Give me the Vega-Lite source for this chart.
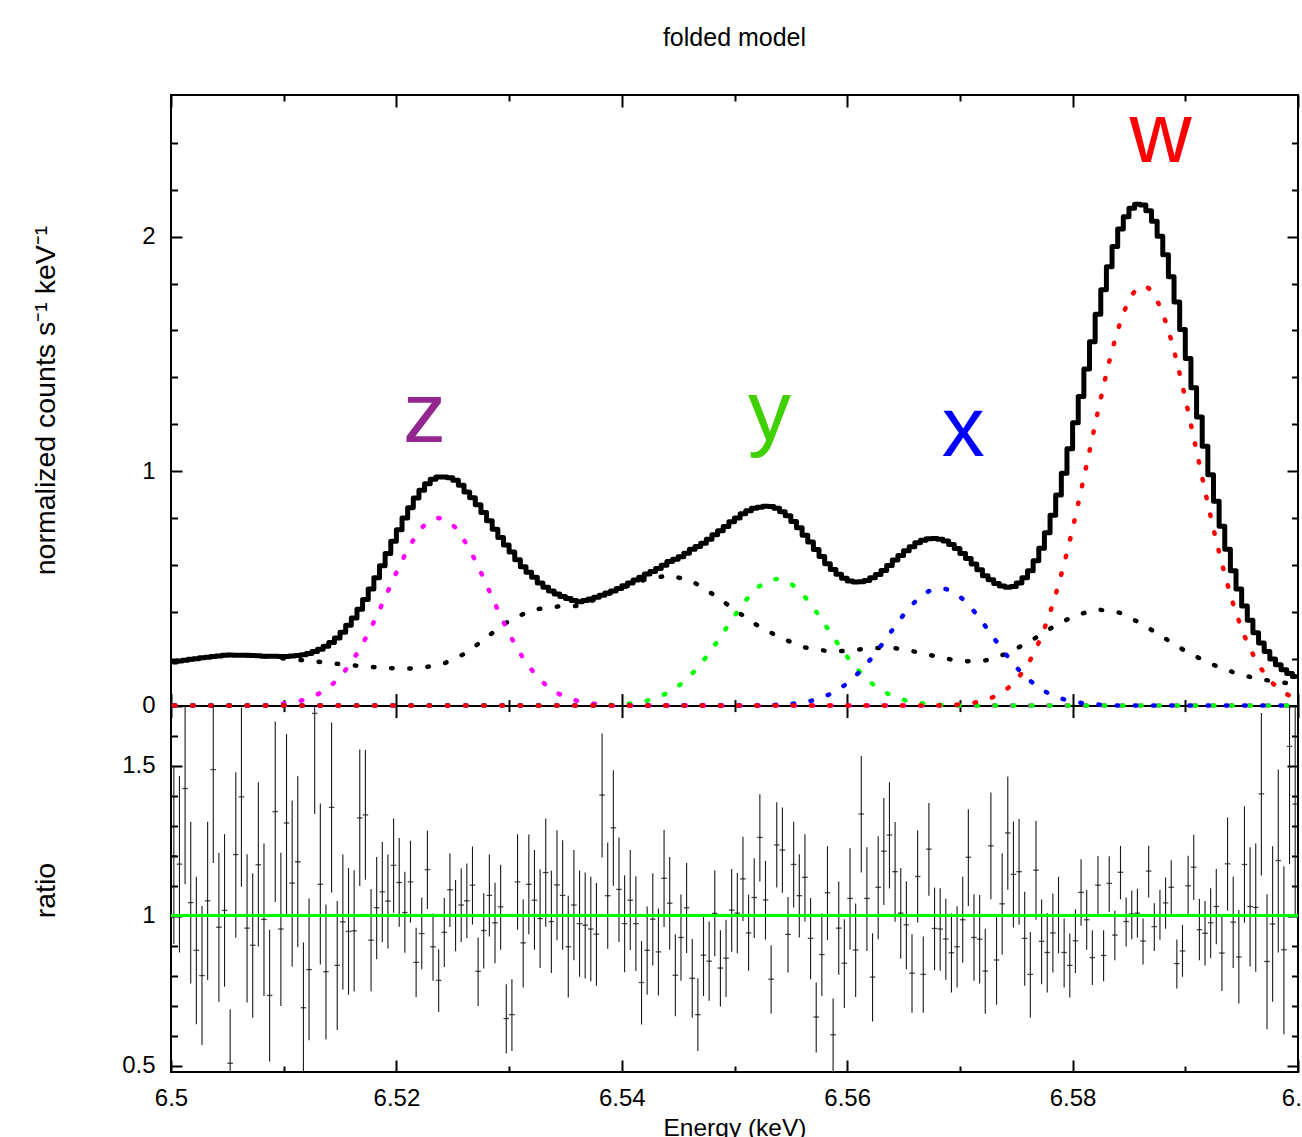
{
"$schema":"https://vega.github.io/schema/vega-lite/v6.json",
"width":1127,"height":977,
"autosize":{"type":"none"},
"padding":{"left":171,"top":95,"right":4,"bottom":65},
"background":"white",
"title":{"text":"folded model","font":"Liberation Sans","fontSize":25,"fontWeight":"normal","color":"black","frame":"group","anchor":"middle","offset":42},
"config":{
 "view":{"stroke":"black","strokeWidth":2},
 "axis":{"labelFont":"Liberation Sans","labelFontSize":24,"labelColor":"black","titleFont":"Liberation Sans","titleFontSize":24.5,"titleFontWeight":"normal","titleColor":"black","tickColor":"black","tickWidth":2,"domain":false,"grid":false,"labelFlush":false,"labelOverlap":false,"labelBound":false}
},
"datasets":{
"lab":[{"e":6.5225,"v":1.125,"s":"z"},{"e":6.5531,"v":1.133,"s":"y"},{"e":6.5703,"v":1.063,"s":"x"},{"e":6.5878,"v":2.32,"s":"w"}],
"bins":[
{"e":6.50025,"t":0.186,"b":0.186,"lz":0,"ly":0,"lx":0,"lw":0,"r":1.2,"lo":0.906,"hi":1.5},
{"e":6.50075,"t":0.19,"b":0.19,"lz":0,"ly":0,"lx":0,"lw":0,"r":1.172,"lo":0.878,"hi":1.466},
{"e":6.50125,"t":0.193,"b":0.193,"lz":0,"ly":0,"lx":0,"lw":0,"r":1.424,"lo":1.105,"hi":1.7},
{"e":6.50175,"t":0.197,"b":0.197,"lz":0,"ly":0,"lx":0,"lw":0,"r":1.044,"lo":0.775,"hi":1.313},
{"e":6.50225,"t":0.2,"b":0.2,"lz":0,"ly":0,"lx":0,"lw":0,"r":0.885,"lo":0.639,"hi":1.13},
{"e":6.50275,"t":0.204,"b":0.204,"lz":0,"ly":0,"lx":0,"lw":0,"r":0.801,"lo":0.57,"hi":1.033},
{"e":6.50325,"t":0.206,"b":0.206,"lz":0,"ly":0,"lx":0,"lw":0,"r":1.05,"lo":0.786,"hi":1.313},
{"e":6.50375,"t":0.209,"b":0.209,"lz":0,"ly":0,"lx":0,"lw":0,"r":1.487,"lo":1.176,"hi":1.7},
{"e":6.50425,"t":0.211,"b":0.211,"lz":0,"ly":0,"lx":0,"lw":0,"r":0.962,"lo":0.714,"hi":1.209},
{"e":6.50475,"t":0.214,"b":0.214,"lz":0,"ly":0,"lx":0,"lw":0,"r":1.018,"lo":0.764,"hi":1.272},
{"e":6.50525,"t":0.216,"b":0.216,"lz":0,"ly":0,"lx":0,"lw":0,"r":0.509,"lo":0.3,"hi":0.689},
{"e":6.50575,"t":0.215,"b":0.215,"lz":0,"ly":0,"lx":0,"lw":0,"r":1.204,"lo":0.927,"hi":1.478},
{"e":6.50625,"t":0.214,"b":0.214,"lz":0,"ly":0,"lx":0,"lw":0,"r":1.396,"lo":1.097,"hi":1.694},
{"e":6.50675,"t":0.214,"b":0.214,"lz":0,"ly":0,"lx":0,"lw":0,"r":0.959,"lo":0.711,"hi":1.205},
{"e":6.50725,"t":0.213,"b":0.213,"lz":0,"ly":0,"lx":0,"lw":0,"r":0.902,"lo":0.661,"hi":1.142},
{"e":6.50775,"t":0.212,"b":0.212,"lz":0,"ly":0,"lx":0,"lw":0,"r":1.17,"lo":0.898,"hi":1.445},
{"e":6.50825,"t":0.21,"b":0.21,"lz":0,"ly":0,"lx":0,"lw":0,"r":0.988,"lo":0.733,"hi":1.241},
{"e":6.50875,"t":0.21,"b":0.207,"lz":0.003,"ly":0,"lx":0,"lw":0,"r":0.735,"lo":0.515,"hi":0.954},
{"e":6.50925,"t":0.21,"b":0.205,"lz":0.005,"ly":0,"lx":0,"lw":0,"r":1.347,"lo":1.046,"hi":1.647},
{"e":6.50975,"t":0.209,"b":0.202,"lz":0.007,"ly":0,"lx":0,"lw":0,"r":0.956,"lo":0.7,"hi":1.21},
{"e":6.51025,"t":0.209,"b":0.2,"lz":0.009,"ly":0,"lx":0,"lw":0,"r":1.309,"lo":1.006,"hi":1.605},
{"e":6.51075,"t":0.211,"b":0.198,"lz":0.013,"ly":0,"lx":0,"lw":0,"r":1.109,"lo":0.831,"hi":1.384},
{"e":6.51125,"t":0.213,"b":0.195,"lz":0.018,"ly":0,"lx":0,"lw":0,"r":1.18,"lo":0.895,"hi":1.465},
{"e":6.51175,"t":0.217,"b":0.193,"lz":0.024,"ly":0,"lx":0,"lw":0,"r":0.694,"lo":0.45,"hi":0.911},
{"e":6.51225,"t":0.222,"b":0.19,"lz":0.032,"ly":0,"lx":0,"lw":0,"r":0.821,"lo":0.586,"hi":1.058},
{"e":6.51275,"t":0.23,"b":0.188,"lz":0.042,"ly":0,"lx":0,"lw":0,"r":1.674,"lo":1.339,"hi":1.7},
{"e":6.51325,"t":0.24,"b":0.186,"lz":0.054,"ly":0,"lx":0,"lw":0,"r":1.105,"lo":0.838,"hi":1.374},
{"e":6.51375,"t":0.253,"b":0.183,"lz":0.07,"ly":0,"lx":0,"lw":0,"r":0.814,"lo":0.588,"hi":1.038},
{"e":6.51425,"t":0.269,"b":0.181,"lz":0.088,"ly":0,"lx":0,"lw":0,"r":1.361,"lo":1.078,"hi":1.644},
{"e":6.51475,"t":0.288,"b":0.178,"lz":0.11,"ly":0,"lx":0,"lw":0,"r":0.835,"lo":0.62,"hi":1.049},
{"e":6.51525,"t":0.313,"b":0.176,"lz":0.137,"ly":0,"lx":0,"lw":0,"r":0.98,"lo":0.755,"hi":1.204},
{"e":6.51575,"t":0.342,"b":0.174,"lz":0.168,"ly":0,"lx":0,"lw":0,"r":0.948,"lo":0.737,"hi":1.159},
{"e":6.51625,"t":0.373,"b":0.171,"lz":0.202,"ly":0,"lx":0,"lw":0,"r":0.95,"lo":0.748,"hi":1.152},
{"e":6.51675,"t":0.411,"b":0.169,"lz":0.242,"ly":0,"lx":0,"lw":0,"r":1.326,"lo":1.099,"hi":1.554},
{"e":6.51725,"t":0.452,"b":0.167,"lz":0.285,"ly":0,"lx":0,"lw":0,"r":1.336,"lo":1.12,"hi":1.552},
{"e":6.51775,"t":0.497,"b":0.165,"lz":0.332,"ly":0,"lx":0,"lw":0,"r":0.919,"lo":0.749,"hi":1.089},
{"e":6.51825,"t":0.545,"b":0.163,"lz":0.382,"ly":0,"lx":0,"lw":0,"r":1.027,"lo":0.855,"hi":1.196},
{"e":6.51875,"t":0.596,"b":0.162,"lz":0.434,"ly":0,"lx":0,"lw":0,"r":1.08,"lo":0.912,"hi":1.246},
{"e":6.51925,"t":0.648,"b":0.16,"lz":0.488,"ly":0,"lx":0,"lw":0,"r":1.049,"lo":0.891,"hi":1.204},
{"e":6.51975,"t":0.701,"b":0.159,"lz":0.542,"ly":0,"lx":0,"lw":0,"r":1.168,"lo":1.01,"hi":1.324},
{"e":6.52025,"t":0.75,"b":0.157,"lz":0.593,"ly":0,"lx":0,"lw":0,"r":1.111,"lo":0.964,"hi":1.259},
{"e":6.52075,"t":0.8,"b":0.158,"lz":0.642,"ly":0,"lx":0,"lw":0,"r":1.011,"lo":0.877,"hi":1.147},
{"e":6.52125,"t":0.844,"b":0.158,"lz":0.686,"ly":0,"lx":0,"lw":0,"r":1.113,"lo":0.977,"hi":1.25},
{"e":6.52175,"t":0.885,"b":0.159,"lz":0.726,"ly":0,"lx":0,"lw":0,"r":0.845,"lo":0.729,"hi":0.96},
{"e":6.52225,"t":0.918,"b":0.16,"lz":0.758,"ly":0,"lx":0,"lw":0,"r":0.941,"lo":0.822,"hi":1.061},
{"e":6.52275,"t":0.946,"b":0.165,"lz":0.781,"ly":0,"lx":0,"lw":0,"r":1.154,"lo":1.023,"hi":1.283},
{"e":6.52325,"t":0.965,"b":0.17,"lz":0.795,"ly":0,"lx":0,"lw":0,"r":0.897,"lo":0.784,"hi":1.008},
{"e":6.52375,"t":0.975,"b":0.175,"lz":0.8,"ly":0,"lx":0,"lw":0,"r":0.785,"lo":0.68,"hi":0.889},
{"e":6.52425,"t":0.975,"b":0.18,"lz":0.795,"ly":0,"lx":0,"lw":0,"r":0.945,"lo":0.83,"hi":1.059},
{"e":6.52475,"t":0.972,"b":0.191,"lz":0.781,"ly":0,"lx":0,"lw":0,"r":1.087,"lo":0.963,"hi":1.208},
{"e":6.52525,"t":0.961,"b":0.203,"lz":0.758,"ly":0,"lx":0,"lw":0,"r":1.0,"lo":0.882,"hi":1.119},
{"e":6.52575,"t":0.94,"b":0.214,"lz":0.726,"ly":0,"lx":0,"lw":0,"r":1.036,"lo":0.913,"hi":1.158},
{"e":6.52625,"t":0.911,"b":0.225,"lz":0.686,"ly":0,"lx":0,"lw":0,"r":1.05,"lo":0.925,"hi":1.174},
{"e":6.52675,"t":0.886,"b":0.244,"lz":0.642,"ly":0,"lx":0,"lw":0,"r":1.102,"lo":0.971,"hi":1.231},
{"e":6.52725,"t":0.856,"b":0.263,"lz":0.593,"ly":0,"lx":0,"lw":0,"r":0.815,"lo":0.7,"hi":0.928},
{"e":6.52775,"t":0.823,"b":0.281,"lz":0.542,"ly":0,"lx":0,"lw":0,"r":0.951,"lo":0.825,"hi":1.075},
{"e":6.52825,"t":0.788,"b":0.3,"lz":0.488,"ly":0,"lx":0,"lw":0,"r":1.068,"lo":0.931,"hi":1.204},
{"e":6.52875,"t":0.752,"b":0.318,"lz":0.434,"ly":0,"lx":0,"lw":0,"r":0.977,"lo":0.842,"hi":1.11},
{"e":6.52925,"t":0.717,"b":0.335,"lz":0.382,"ly":0,"lx":0,"lw":0,"r":1.03,"lo":0.887,"hi":1.17},
{"e":6.52975,"t":0.685,"b":0.353,"lz":0.332,"ly":0,"lx":0,"lw":0,"r":0.658,"lo":0.542,"hi":0.772},
{"e":6.53025,"t":0.655,"b":0.37,"lz":0.285,"ly":0,"lx":0,"lw":0,"r":0.671,"lo":0.55,"hi":0.789},
{"e":6.53075,"t":0.622,"b":0.38,"lz":0.242,"ly":0,"lx":0,"lw":0,"r":1.113,"lo":0.954,"hi":1.272},
{"e":6.53125,"t":0.592,"b":0.39,"lz":0.202,"ly":0,"lx":0,"lw":0,"r":0.91,"lo":0.761,"hi":1.055},
{"e":6.53175,"t":0.568,"b":0.4,"lz":0.168,"ly":0,"lx":0,"lw":0,"r":1.105,"lo":0.939,"hi":1.271},
{"e":6.53225,"t":0.547,"b":0.41,"lz":0.137,"ly":0,"lx":0,"lw":0,"r":1.052,"lo":0.887,"hi":1.219},
{"e":6.53275,"t":0.523,"b":0.413,"lz":0.11,"ly":0,"lx":0,"lw":0,"r":0.991,"lo":0.826,"hi":1.155},
{"e":6.53325,"t":0.504,"b":0.416,"lz":0.088,"ly":0,"lx":0,"lw":0,"r":1.144,"lo":0.964,"hi":1.324},
{"e":6.53375,"t":0.489,"b":0.419,"lz":0.07,"ly":0,"lx":0,"lw":0,"r":0.981,"lo":0.81,"hi":1.15},
{"e":6.53425,"t":0.476,"b":0.422,"lz":0.054,"ly":0,"lx":0,"lw":0,"r":1.103,"lo":0.919,"hi":1.285},
{"e":6.53475,"t":0.465,"b":0.423,"lz":0.042,"ly":0,"lx":0,"lw":0,"r":1.068,"lo":0.887,"hi":1.252},
{"e":6.53525,"t":0.456,"b":0.424,"lz":0.032,"ly":0,"lx":0,"lw":0,"r":0.897,"lo":0.728,"hi":1.067},
{"e":6.53575,"t":0.448,"b":0.424,"lz":0.024,"ly":0,"lx":0,"lw":0,"r":1.036,"lo":0.852,"hi":1.219},
{"e":6.53625,"t":0.443,"b":0.425,"lz":0.018,"ly":0,"lx":0,"lw":0,"r":0.974,"lo":0.797,"hi":1.151},
{"e":6.53675,"t":0.448,"b":0.435,"lz":0.013,"ly":0,"lx":0,"lw":0,"r":0.969,"lo":0.791,"hi":1.144},
{"e":6.53725,"t":0.454,"b":0.445,"lz":0.009,"ly":0,"lx":0,"lw":0,"r":0.956,"lo":0.782,"hi":1.13},
{"e":6.53775,"t":0.462,"b":0.455,"lz":0.007,"ly":0,"lx":0,"lw":0,"r":0.939,"lo":0.767,"hi":1.109},
{"e":6.53825,"t":0.47,"b":0.465,"lz":0.005,"ly":0,"lx":0,"lw":0,"r":1.402,"lo":1.194,"hi":1.607},
{"e":6.53875,"t":0.48,"b":0.475,"lz":0.003,"ly":0.002,"lx":0,"lw":0,"r":1.067,"lo":0.89,"hi":1.244},
{"e":6.53925,"t":0.488,"b":0.485,"lz":0,"ly":0.003,"lx":0,"lw":0,"r":1.293,"lo":1.1,"hi":1.485},
{"e":6.53975,"t":0.499,"b":0.495,"lz":0,"ly":0.004,"lx":0,"lw":0,"r":1.088,"lo":0.913,"hi":1.261},
{"e":6.54025,"t":0.511,"b":0.505,"lz":0,"ly":0.006,"lx":0,"lw":0,"r":0.974,"lo":0.812,"hi":1.135},
{"e":6.54075,"t":0.523,"b":0.514,"lz":0,"ly":0.009,"lx":0,"lw":0,"r":1.052,"lo":0.886,"hi":1.219},
{"e":6.54125,"t":0.535,"b":0.523,"lz":0,"ly":0.012,"lx":0,"lw":0,"r":0.974,"lo":0.816,"hi":1.132},
{"e":6.54175,"t":0.547,"b":0.531,"lz":0,"ly":0.016,"lx":0,"lw":0,"r":0.778,"lo":0.638,"hi":0.916},
{"e":6.54225,"t":0.561,"b":0.54,"lz":0,"ly":0.021,"lx":0,"lw":0,"r":0.885,"lo":0.737,"hi":1.031},
{"e":6.54275,"t":0.572,"b":0.544,"lz":0,"ly":0.028,"lx":0,"lw":0,"r":0.989,"lo":0.835,"hi":1.142},
{"e":6.54325,"t":0.585,"b":0.548,"lz":0,"ly":0.037,"lx":0,"lw":0,"r":0.88,"lo":0.735,"hi":1.024},
{"e":6.54375,"t":0.598,"b":0.551,"lz":0,"ly":0.047,"lx":0,"lw":0,"r":1.125,"lo":0.963,"hi":1.286},
{"e":6.54425,"t":0.614,"b":0.555,"lz":0,"ly":0.059,"lx":0,"lw":0,"r":1.042,"lo":0.887,"hi":1.196},
{"e":6.54475,"t":0.624,"b":0.549,"lz":0,"ly":0.075,"lx":0,"lw":0,"r":0.802,"lo":0.666,"hi":0.939},
{"e":6.54525,"t":0.635,"b":0.543,"lz":0,"ly":0.092,"lx":0,"lw":0,"r":0.928,"lo":0.784,"hi":1.071},
{"e":6.54575,"t":0.649,"b":0.536,"lz":0,"ly":0.113,"lx":0,"lw":0,"r":1.027,"lo":0.876,"hi":1.176},
{"e":6.54625,"t":0.667,"b":0.53,"lz":0,"ly":0.137,"lx":0,"lw":0,"r":0.792,"lo":0.661,"hi":0.923},
{"e":6.54675,"t":0.678,"b":0.515,"lz":0,"ly":0.163,"lx":0,"lw":0,"r":0.671,"lo":0.55,"hi":0.792},
{"e":6.54725,"t":0.692,"b":0.5,"lz":0,"ly":0.192,"lx":0,"lw":0,"r":0.869,"lo":0.733,"hi":1.002},
{"e":6.54775,"t":0.709,"b":0.485,"lz":0,"ly":0.224,"lx":0,"lw":0,"r":0.849,"lo":0.717,"hi":0.981},
{"e":6.54825,"t":0.728,"b":0.47,"lz":0,"ly":0.258,"lx":0,"lw":0,"r":1.008,"lo":0.865,"hi":1.151},
{"e":6.54875,"t":0.746,"b":0.453,"lz":0,"ly":0.293,"lx":0,"lw":0,"r":0.826,"lo":0.698,"hi":0.952},
{"e":6.54925,"t":0.764,"b":0.435,"lz":0,"ly":0.329,"lx":0,"lw":0,"r":0.859,"lo":0.73,"hi":0.987},
{"e":6.54975,"t":0.784,"b":0.418,"lz":0,"ly":0.366,"lx":0,"lw":0,"r":1.019,"lo":0.88,"hi":1.156},
{"e":6.55025,"t":0.8,"b":0.4,"lz":0,"ly":0.4,"lx":0,"lw":0,"r":1.009,"lo":0.875,"hi":1.143},
{"e":6.55075,"t":0.818,"b":0.384,"lz":0,"ly":0.434,"lx":0,"lw":0,"r":1.123,"lo":0.983,"hi":1.263},
{"e":6.55125,"t":0.831,"b":0.368,"lz":0,"ly":0.463,"lx":0,"lw":0,"r":0.943,"lo":0.817,"hi":1.07},
{"e":6.55175,"t":0.841,"b":0.351,"lz":0,"ly":0.49,"lx":0,"lw":0,"r":1.061,"lo":0.926,"hi":1.192},
{"e":6.55225,"t":0.846,"b":0.335,"lz":0,"ly":0.511,"lx":0,"lw":0,"r":1.261,"lo":1.114,"hi":1.405},
{"e":6.55275,"t":0.85,"b":0.323,"lz":0,"ly":0.527,"lx":0,"lw":0,"r":1.053,"lo":0.921,"hi":1.183},
{"e":6.55325,"t":0.849,"b":0.31,"lz":0,"ly":0.537,"lx":0.002,"lw":0,"r":0.789,"lo":0.675,"hi":0.902},
{"e":6.55375,"t":0.841,"b":0.298,"lz":0,"ly":0.54,"lx":0.003,"lw":0,"r":1.236,"lo":1.094,"hi":1.378},
{"e":6.55425,"t":0.826,"b":0.285,"lz":0,"ly":0.537,"lx":0.004,"lw":0,"r":1.219,"lo":1.077,"hi":1.361},
{"e":6.55475,"t":0.809,"b":0.276,"lz":0,"ly":0.527,"lx":0.006,"lw":0,"r":0.938,"lo":0.811,"hi":1.063},
{"e":6.55525,"t":0.785,"b":0.266,"lz":0,"ly":0.511,"lx":0.008,"lw":0,"r":1.171,"lo":1.028,"hi":1.313},
{"e":6.55575,"t":0.758,"b":0.257,"lz":0,"ly":0.49,"lx":0.011,"lw":0,"r":1.067,"lo":0.928,"hi":1.205},
{"e":6.55625,"t":0.726,"b":0.248,"lz":0,"ly":0.463,"lx":0.015,"lw":0,"r":1.128,"lo":0.981,"hi":1.272},
{"e":6.55675,"t":0.698,"b":0.244,"lz":0,"ly":0.434,"lx":0.02,"lw":0,"r":0.925,"lo":0.789,"hi":1.059},
{"e":6.55725,"t":0.666,"b":0.24,"lz":0,"ly":0.4,"lx":0.026,"lw":0,"r":0.663,"lo":0.545,"hi":0.778},
{"e":6.55775,"t":0.636,"b":0.236,"lz":0,"ly":0.366,"lx":0.034,"lw":0,"r":0.871,"lo":0.733,"hi":1.008},
{"e":6.55825,"t":0.605,"b":0.232,"lz":0,"ly":0.329,"lx":0.044,"lw":0,"r":1.077,"lo":0.92,"hi":1.232},
{"e":6.55875,"t":0.58,"b":0.232,"lz":0,"ly":0.293,"lx":0.055,"lw":0,"r":0.604,"lo":0.45,"hi":0.725},
{"e":6.55925,"t":0.56,"b":0.233,"lz":0,"ly":0.258,"lx":0.069,"lw":0,"r":0.959,"lo":0.804,"hi":1.114},
{"e":6.55975,"t":0.543,"b":0.233,"lz":0,"ly":0.224,"lx":0.086,"lw":0,"r":0.842,"lo":0.693,"hi":0.989},
{"e":6.56025,"t":0.531,"b":0.234,"lz":0,"ly":0.192,"lx":0.105,"lw":0,"r":1.058,"lo":0.888,"hi":1.225},
{"e":6.56075,"t":0.527,"b":0.237,"lz":0,"ly":0.163,"lx":0.127,"lw":0,"r":0.886,"lo":0.73,"hi":1.041},
{"e":6.56125,"t":0.528,"b":0.24,"lz":0,"ly":0.137,"lx":0.151,"lw":0,"r":1.339,"lo":1.144,"hi":1.532},
{"e":6.56175,"t":0.533,"b":0.242,"lz":0,"ly":0.113,"lx":0.178,"lw":0,"r":1.058,"lo":0.883,"hi":1.228},
{"e":6.56225,"t":0.545,"b":0.245,"lz":0,"ly":0.092,"lx":0.208,"lw":0,"r":0.796,"lo":0.648,"hi":0.942},
{"e":6.56275,"t":0.559,"b":0.245,"lz":0,"ly":0.075,"lx":0.239,"lw":0,"r":1.095,"lo":0.922,"hi":1.265},
{"e":6.56325,"t":0.576,"b":0.245,"lz":0,"ly":0.059,"lx":0.272,"lw":0,"r":1.215,"lo":1.036,"hi":1.392},
{"e":6.56375,"t":0.597,"b":0.245,"lz":0,"ly":0.047,"lx":0.305,"lw":0,"r":1.269,"lo":1.091,"hi":1.445},
{"e":6.56425,"t":0.621,"b":0.245,"lz":0,"ly":0.037,"lx":0.339,"lw":0,"r":1.147,"lo":0.98,"hi":1.312},
{"e":6.56475,"t":0.64,"b":0.241,"lz":0,"ly":0.028,"lx":0.371,"lw":0,"r":1.009,"lo":0.857,"hi":1.159},
{"e":6.56525,"t":0.66,"b":0.237,"lz":0,"ly":0.021,"lx":0.402,"lw":0,"r":0.97,"lo":0.822,"hi":1.115},
{"e":6.56575,"t":0.677,"b":0.232,"lz":0,"ly":0.016,"lx":0.429,"lw":0,"r":0.809,"lo":0.677,"hi":0.939},
{"e":6.56625,"t":0.694,"b":0.228,"lz":0,"ly":0.012,"lx":0.454,"lw":0,"r":1.131,"lo":0.978,"hi":1.284},
{"e":6.56675,"t":0.705,"b":0.222,"lz":0,"ly":0.009,"lx":0.474,"lw":0,"r":0.805,"lo":0.677,"hi":0.931},
{"e":6.56725,"t":0.711,"b":0.217,"lz":0,"ly":0.006,"lx":0.488,"lw":0,"r":1.222,"lo":1.067,"hi":1.376},
{"e":6.56775,"t":0.712,"b":0.211,"lz":0,"ly":0.004,"lx":0.497,"lw":0,"r":0.958,"lo":0.819,"hi":1.094},
{"e":6.56825,"t":0.709,"b":0.205,"lz":0,"ly":0.003,"lx":0.5,"lw":0.001,"r":0.956,"lo":0.818,"hi":1.092},
{"e":6.56875,"t":0.702,"b":0.201,"lz":0,"ly":0.002,"lx":0.497,"lw":0.002,"r":0.923,"lo":0.787,"hi":1.057},
{"e":6.56925,"t":0.687,"b":0.196,"lz":0,"ly":0,"lx":0.488,"lw":0.003,"r":0.877,"lo":0.745,"hi":1.008},
{"e":6.56975,"t":0.67,"b":0.192,"lz":0,"ly":0,"lx":0.474,"lw":0.004,"r":0.897,"lo":0.761,"hi":1.032},
{"e":6.57025,"t":0.648,"b":0.188,"lz":0,"ly":0,"lx":0.454,"lw":0.006,"r":0.987,"lo":0.844,"hi":1.13},
{"e":6.57075,"t":0.627,"b":0.189,"lz":0,"ly":0,"lx":0.429,"lw":0.009,"r":1.195,"lo":1.033,"hi":1.355},
{"e":6.57125,"t":0.604,"b":0.19,"lz":0,"ly":0,"lx":0.402,"lw":0.012,"r":0.928,"lo":0.784,"hi":1.072},
{"e":6.57175,"t":0.579,"b":0.191,"lz":0,"ly":0,"lx":0.371,"lw":0.017,"r":0.922,"lo":0.775,"hi":1.069},
{"e":6.57225,"t":0.554,"b":0.192,"lz":0,"ly":0,"lx":0.339,"lw":0.023,"r":0.816,"lo":0.674,"hi":0.957},
{"e":6.57275,"t":0.537,"b":0.2,"lz":0,"ly":0,"lx":0.305,"lw":0.032,"r":1.233,"lo":1.055,"hi":1.411},
{"e":6.57325,"t":0.521,"b":0.207,"lz":0,"ly":0,"lx":0.272,"lw":0.042,"r":0.853,"lo":0.704,"hi":1.003},
{"e":6.57375,"t":0.51,"b":0.215,"lz":0,"ly":0,"lx":0.239,"lw":0.056,"r":1.04,"lo":0.871,"hi":1.208},
{"e":6.57425,"t":0.504,"b":0.222,"lz":0,"ly":0,"lx":0.208,"lw":0.074,"r":1.276,"lo":1.087,"hi":1.464},
{"e":6.57475,"t":0.508,"b":0.235,"lz":0,"ly":0,"lx":0.178,"lw":0.095,"r":1.138,"lo":0.961,"hi":1.314},
{"e":6.57525,"t":0.523,"b":0.249,"lz":0,"ly":0,"lx":0.151,"lw":0.123,"r":1.147,"lo":0.97,"hi":1.322},
{"e":6.57575,"t":0.545,"b":0.262,"lz":0,"ly":0,"lx":0.127,"lw":0.156,"r":0.925,"lo":0.767,"hi":1.08},
{"e":6.57625,"t":0.575,"b":0.275,"lz":0,"ly":0,"lx":0.105,"lw":0.195,"r":0.805,"lo":0.661,"hi":0.946},
{"e":6.57675,"t":0.618,"b":0.29,"lz":0,"ly":0,"lx":0.086,"lw":0.242,"r":1.152,"lo":0.987,"hi":1.316},
{"e":6.57725,"t":0.671,"b":0.305,"lz":0,"ly":0,"lx":0.069,"lw":0.297,"r":0.915,"lo":0.772,"hi":1.054},
{"e":6.57775,"t":0.737,"b":0.32,"lz":0,"ly":0,"lx":0.055,"lw":0.362,"r":0.878,"lo":0.745,"hi":1.009},
{"e":6.57825,"t":0.812,"b":0.335,"lz":0,"ly":0,"lx":0.044,"lw":0.433,"r":0.943,"lo":0.811,"hi":1.074},
{"e":6.57875,"t":0.898,"b":0.348,"lz":0,"ly":0,"lx":0.034,"lw":0.516,"r":1.002,"lo":0.875,"hi":1.13},
{"e":6.57925,"t":0.991,"b":0.36,"lz":0,"ly":0,"lx":0.026,"lw":0.605,"r":0.878,"lo":0.761,"hi":0.991},
{"e":6.57975,"t":1.095,"b":0.373,"lz":0,"ly":0,"lx":0.02,"lw":0.702,"r":0.835,"lo":0.728,"hi":0.941},
{"e":6.58025,"t":1.206,"b":0.385,"lz":0,"ly":0,"lx":0.015,"lw":0.806,"r":0.917,"lo":0.81,"hi":1.022},
{"e":6.58075,"t":1.318,"b":0.391,"lz":0,"ly":0,"lx":0.011,"lw":0.916,"r":1.078,"lo":0.967,"hi":1.188},
{"e":6.58125,"t":1.435,"b":0.398,"lz":0,"ly":0,"lx":0.008,"lw":1.029,"r":0.987,"lo":0.887,"hi":1.087},
{"e":6.58175,"t":1.552,"b":0.404,"lz":0,"ly":0,"lx":0.006,"lw":1.142,"r":0.861,"lo":0.77,"hi":0.952},
{"e":6.58225,"t":1.669,"b":0.41,"lz":0,"ly":0,"lx":0.004,"lw":1.255,"r":1.102,"lo":1.0,"hi":1.199},
{"e":6.58275,"t":1.773,"b":0.406,"lz":0,"ly":0,"lx":0.003,"lw":1.364,"r":0.868,"lo":0.782,"hi":0.952},
{"e":6.58325,"t":1.871,"b":0.403,"lz":0,"ly":0,"lx":0.002,"lw":1.466,"r":1.108,"lo":1.013,"hi":1.198},
{"e":6.58375,"t":1.958,"b":0.399,"lz":0,"ly":0,"lx":0,"lw":1.559,"r":0.936,"lo":0.852,"hi":1.017},
{"e":6.58425,"t":2.033,"b":0.395,"lz":0,"ly":0,"lx":0,"lw":1.638,"r":1.145,"lo":1.055,"hi":1.233},
{"e":6.58475,"t":2.085,"b":0.383,"lz":0,"ly":0,"lx":0,"lw":1.702,"r":0.981,"lo":0.898,"hi":1.061},
{"e":6.58525,"t":2.121,"b":0.37,"lz":0,"ly":0,"lx":0,"lw":1.751,"r":1.006,"lo":0.922,"hi":1.084},
{"e":6.58575,"t":2.138,"b":0.358,"lz":0,"ly":0,"lx":0,"lw":1.78,"r":1.009,"lo":0.928,"hi":1.09},
{"e":6.58625,"t":2.135,"b":0.345,"lz":0,"ly":0,"lx":0,"lw":1.79,"r":0.916,"lo":0.838,"hi":0.991},
{"e":6.58675,"t":2.11,"b":0.33,"lz":0,"ly":0,"lx":0,"lw":1.78,"r":1.149,"lo":1.061,"hi":1.233},
{"e":6.58725,"t":2.066,"b":0.315,"lz":0,"ly":0,"lx":0,"lw":1.751,"r":0.964,"lo":0.883,"hi":1.042},
{"e":6.58775,"t":2.002,"b":0.3,"lz":0,"ly":0,"lx":0,"lw":1.702,"r":1.004,"lo":0.92,"hi":1.087},
{"e":6.58825,"t":1.923,"b":0.285,"lz":0,"ly":0,"lx":0,"lw":1.638,"r":1.043,"lo":0.957,"hi":1.128},
{"e":6.58875,"t":1.829,"b":0.27,"lz":0,"ly":0,"lx":0,"lw":1.559,"r":1.095,"lo":1.001,"hi":1.185},
{"e":6.58925,"t":1.721,"b":0.255,"lz":0,"ly":0,"lx":0,"lw":1.466,"r":0.841,"lo":0.758,"hi":0.921},
{"e":6.58975,"t":1.604,"b":0.24,"lz":0,"ly":0,"lx":0,"lw":1.364,"r":0.883,"lo":0.797,"hi":0.97},
{"e":6.59025,"t":1.48,"b":0.225,"lz":0,"ly":0,"lx":0,"lw":1.255,"r":1.1,"lo":0.999,"hi":1.2},
{"e":6.59075,"t":1.355,"b":0.213,"lz":0,"ly":0,"lx":0,"lw":1.142,"r":1.162,"lo":1.053,"hi":1.27},
{"e":6.59125,"t":1.231,"b":0.202,"lz":0,"ly":0,"lx":0,"lw":1.029,"r":0.954,"lo":0.852,"hi":1.057},
{"e":6.59175,"t":1.106,"b":0.19,"lz":0,"ly":0,"lx":0,"lw":0.916,"r":0.942,"lo":0.835,"hi":1.049},
{"e":6.59225,"t":0.984,"b":0.178,"lz":0,"ly":0,"lx":0,"lw":0.806,"r":0.977,"lo":0.859,"hi":1.092},
{"e":6.59275,"t":0.871,"b":0.169,"lz":0,"ly":0,"lx":0,"lw":0.702,"r":1.031,"lo":0.905,"hi":1.156},
{"e":6.59325,"t":0.765,"b":0.16,"lz":0,"ly":0,"lx":0,"lw":0.605,"r":0.876,"lo":0.75,"hi":1.001},
{"e":6.59375,"t":0.667,"b":0.151,"lz":0,"ly":0,"lx":0,"lw":0.516,"r":1.173,"lo":1.017,"hi":1.327},
{"e":6.59425,"t":0.575,"b":0.142,"lz":0,"ly":0,"lx":0,"lw":0.433,"r":0.979,"lo":0.826,"hi":1.13},
{"e":6.59475,"t":0.497,"b":0.135,"lz":0,"ly":0,"lx":0,"lw":0.362,"r":0.863,"lo":0.708,"hi":1.019},
{"e":6.59525,"t":0.425,"b":0.128,"lz":0,"ly":0,"lx":0,"lw":0.297,"r":1.171,"lo":0.977,"hi":1.365},
{"e":6.59575,"t":0.364,"b":0.122,"lz":0,"ly":0,"lx":0,"lw":0.242,"r":1.031,"lo":0.831,"hi":1.228},
{"e":6.59625,"t":0.31,"b":0.115,"lz":0,"ly":0,"lx":0,"lw":0.195,"r":1.028,"lo":0.814,"hi":1.241},
{"e":6.59675,"t":0.267,"b":0.111,"lz":0,"ly":0,"lx":0,"lw":0.156,"r":1.406,"lo":1.134,"hi":1.675},
{"e":6.59725,"t":0.231,"b":0.108,"lz":0,"ly":0,"lx":0,"lw":0.123,"r":0.848,"lo":0.622,"hi":1.072},
{"e":6.59775,"t":0.199,"b":0.104,"lz":0,"ly":0,"lx":0,"lw":0.095,"r":0.973,"lo":0.714,"hi":1.232},
{"e":6.59825,"t":0.174,"b":0.1,"lz":0,"ly":0,"lx":0,"lw":0.074,"r":1.184,"lo":0.878,"hi":1.487},
{"e":6.59875,"t":0.153,"b":0.097,"lz":0,"ly":0,"lx":0,"lw":0.056,"r":0.887,"lo":0.606,"hi":1.165},
{"e":6.59925,"t":0.137,"b":0.095,"lz":0,"ly":0,"lx":0,"lw":0.042,"r":1.564,"lo":1.172,"hi":1.7},
{"e":6.59975,"t":0.124,"b":0.092,"lz":0,"ly":0,"lx":0,"lw":0.032,"r":1.372,"lo":1.0,"hi":1.7}
]},
"layer":[
 {"data":{"name":"bins"},
  "resolve":{"axis":{"x":"independent","y":"independent"}},
  "layer":[
   {"mark":{"type":"line","color":"black","strokeWidth":4.5,"strokeCap":"round","strokeDash":[1.5,16.7]},
    "encoding":{
     "x":{"field":"e","type":"quantitative","scale":{"domain":[6.5,6.6],"nice":false,"zero":false},
      "axis":{"orient":"bottom","values":[6.5,6.52,6.54,6.56,6.58,6.6],"format":".2~f","ticks":false,"labelPadding":14,"title":"Energy (keV)","titlePadding":6}},
     "y":{"field":"b","type":"quantitative","scale":{"domain":[-1.563,2.604],"nice":false,"zero":false},
      "axis":{"orient":"left","values":[0,1,2],"format":".0f","ticks":false,"labelPadding":16,"title":"normalized counts s⁻¹ keV⁻¹","titleFontSize":28.5,"titleX":-126,"titleY":305,"titleAngle":270,"titleAlign":"center","titleBaseline":"middle"}}}},
   {"mark":{"type":"line","color":"black","strokeWidth":5,"interpolate":"step","strokeJoin":"round","strokeCap":"round"},
    "encoding":{
     "x":{"field":"e","type":"quantitative","scale":{"domain":[6.5,6.6],"nice":false,"zero":false},
      "axis":{"orient":"bottom","values":[6.5,6.52,6.54,6.56,6.58,6.6],"labels":false,"title":null,"tickSize":-12}},
     "y":{"field":"t","type":"quantitative","scale":{"domain":[-1.563,2.604],"nice":false,"zero":false},
      "axis":{"orient":"left","values":[0,1,2],"labels":false,"title":null,"tickSize":-11}}}},
   {"mark":{"type":"line","color":"#ff00ff","strokeWidth":4.5,"strokeCap":"round","strokeDash":[1.5,16.7]},
    "encoding":{
     "x":{"field":"e","type":"quantitative","scale":{"domain":[6.5,6.6],"nice":false,"zero":false},
      "axis":{"orient":"bottom","values":[6.51,6.53,6.55,6.57,6.59],"labels":false,"title":null,"tickSize":-6}},
     "y":{"field":"lz","type":"quantitative","scale":{"domain":[-1.563,2.604],"nice":false,"zero":false},
      "axis":{"orient":"left","values":[0.2,0.4,0.6,0.8,1.2,1.4,1.6,1.8,2.2,2.4],"labels":false,"title":null,"tickSize":-6.5}}}},
   {"mark":{"type":"line","color":"#00ff00","strokeWidth":4.5,"strokeCap":"round","strokeDash":[1.5,16.7]},
    "encoding":{
     "x":{"field":"e","type":"quantitative","scale":{"domain":[6.5,6.6],"nice":false,"zero":false},
      "axis":{"orient":"top","values":[6.5,6.52,6.54,6.56,6.58,6.6],"labels":false,"title":null,"tickSize":-12}},
     "y":{"field":"ly","type":"quantitative","scale":{"domain":[-1.563,2.604],"nice":false,"zero":false},
      "axis":{"orient":"right","values":[0,1,2],"labels":false,"title":null,"tickSize":-11}}}},
   {"mark":{"type":"line","color":"#0000ff","strokeWidth":4.5,"strokeCap":"round","strokeDash":[1.5,16.7]},
    "encoding":{
     "x":{"field":"e","type":"quantitative","scale":{"domain":[6.5,6.6],"nice":false,"zero":false},
      "axis":{"orient":"top","values":[6.51,6.53,6.55,6.57,6.59],"labels":false,"title":null,"tickSize":-6}},
     "y":{"field":"lx","type":"quantitative","scale":{"domain":[-1.563,2.604],"nice":false,"zero":false},
      "axis":{"orient":"right","values":[0.2,0.4,0.6,0.8,1.2,1.4,1.6,1.8,2.2,2.4],"labels":false,"title":null,"tickSize":-6.5}}}},
   {"mark":{"type":"line","color":"#ff0000","strokeWidth":4.5,"strokeCap":"round","strokeDash":[1.5,16.7]},
    "encoding":{
     "x":{"field":"e","type":"quantitative","scale":{"domain":[6.5,6.6],"nice":false,"zero":false},
      "axis":{"orient":"bottom","offset":-366.4,"values":[6.5,6.52,6.54,6.56,6.58,6.6],"labels":false,"title":null,"tickSize":-12,"domain":true,"domainColor":"black","domainWidth":2}},
     "y":{"field":"lw","type":"quantitative","scale":{"domain":[-1.563,2.604],"nice":false,"zero":false},"axis":null}}},
   {"data":{"name":"lab"},
    "mark":{"type":"text","font":"Liberation Sans","fontSize":86,"align":"center","baseline":"alphabetic"},
    "encoding":{
     "x":{"field":"e","type":"quantitative","scale":{"domain":[6.5,6.6],"nice":false,"zero":false},
      "axis":{"orient":"bottom","offset":-366.4,"values":[6.51,6.53,6.55,6.57,6.59],"labels":false,"title":null,"tickSize":-6}},
     "y":{"field":"v","type":"quantitative","scale":{"domain":[-1.563,2.604],"nice":false,"zero":false},"axis":null},
     "text":{"field":"s"},
     "color":{"field":"s","type":"nominal","scale":{"domain":["z","y","x","w"],"range":["#93278f","#3fd000","#0000ff","#ff0000"]},"legend":null}}}
  ]},
 {"data":{"name":"bins"},
  "resolve":{"axis":{"x":"independent","y":"independent"}},
  "layer":[
   {"mark":{"type":"rule","color":"#1a1a1a","strokeWidth":1.1,"clip":true},
    "encoding":{
     "x":{"field":"e","type":"quantitative","scale":{"domain":[6.5,6.6],"nice":false,"zero":false},
      "axis":{"orient":"bottom","offset":-366.4,"values":[6.5,6.52,6.54,6.56,6.58,6.6],"labels":false,"title":null,"tickSize":12}},
     "y":{"field":"lo","type":"quantitative","scale":{"domain":[0.48,3.733],"nice":false,"zero":false},
      "axis":{"orient":"left","values":[0.5,1,1.5],"format":".1~f","ticks":false,"labelPadding":16,"title":"ratio","titleFontSize":28.5,"titleX":-126,"titleY":795,"titleAngle":270,"titleAlign":"center","titleBaseline":"middle"}},
     "y2":{"field":"hi"}}},
   {"mark":{"type":"tick","orient":"horizontal","color":"black","size":5.6,"thickness":1.3,"clip":true},
    "encoding":{
     "x":{"field":"e","type":"quantitative","scale":{"domain":[6.5,6.6],"nice":false,"zero":false},
      "axis":{"orient":"bottom","offset":-366.4,"values":[6.51,6.53,6.55,6.57,6.59],"labels":false,"title":null,"tickSize":6}},
     "y":{"field":"r","type":"quantitative","scale":{"domain":[0.48,3.733],"nice":false,"zero":false},
      "axis":{"orient":"left","values":[0.5,1,1.5],"labels":false,"title":null,"tickSize":-11}}}},
   {"mark":{"type":"rule","color":"#00ff00","strokeWidth":2},
    "encoding":{
     "y":{"datum":1,"type":"quantitative","scale":{"domain":[0.48,3.733],"nice":false,"zero":false},
      "axis":{"orient":"left","values":[0.6,0.7,0.8,0.9,1.1,1.2,1.3,1.4,1.6],"labels":false,"title":null,"tickSize":-6.5}}}},
   {"mark":{"type":"point","opacity":0},
    "encoding":{
     "x":{"field":"e","type":"quantitative","scale":{"domain":[6.5,6.6],"nice":false,"zero":false},"axis":null},
     "y":{"field":"r","type":"quantitative","scale":{"domain":[0.48,3.733],"nice":false,"zero":false},
      "axis":{"orient":"right","values":[0.5,1,1.5],"labels":false,"title":null,"tickSize":-11}}}},
   {"mark":{"type":"point","opacity":0},
    "encoding":{
     "x":{"field":"e","type":"quantitative","scale":{"domain":[6.5,6.6],"nice":false,"zero":false},"axis":null},
     "y":{"field":"r","type":"quantitative","scale":{"domain":[0.48,3.733],"nice":false,"zero":false},
      "axis":{"orient":"right","values":[0.6,0.7,0.8,0.9,1.1,1.2,1.3,1.4,1.6],"labels":false,"title":null,"tickSize":-6.5}}}}
  ]}
],
"resolve":{"scale":{"y":"independent"},"axis":{"x":"independent","y":"independent"}}
}
